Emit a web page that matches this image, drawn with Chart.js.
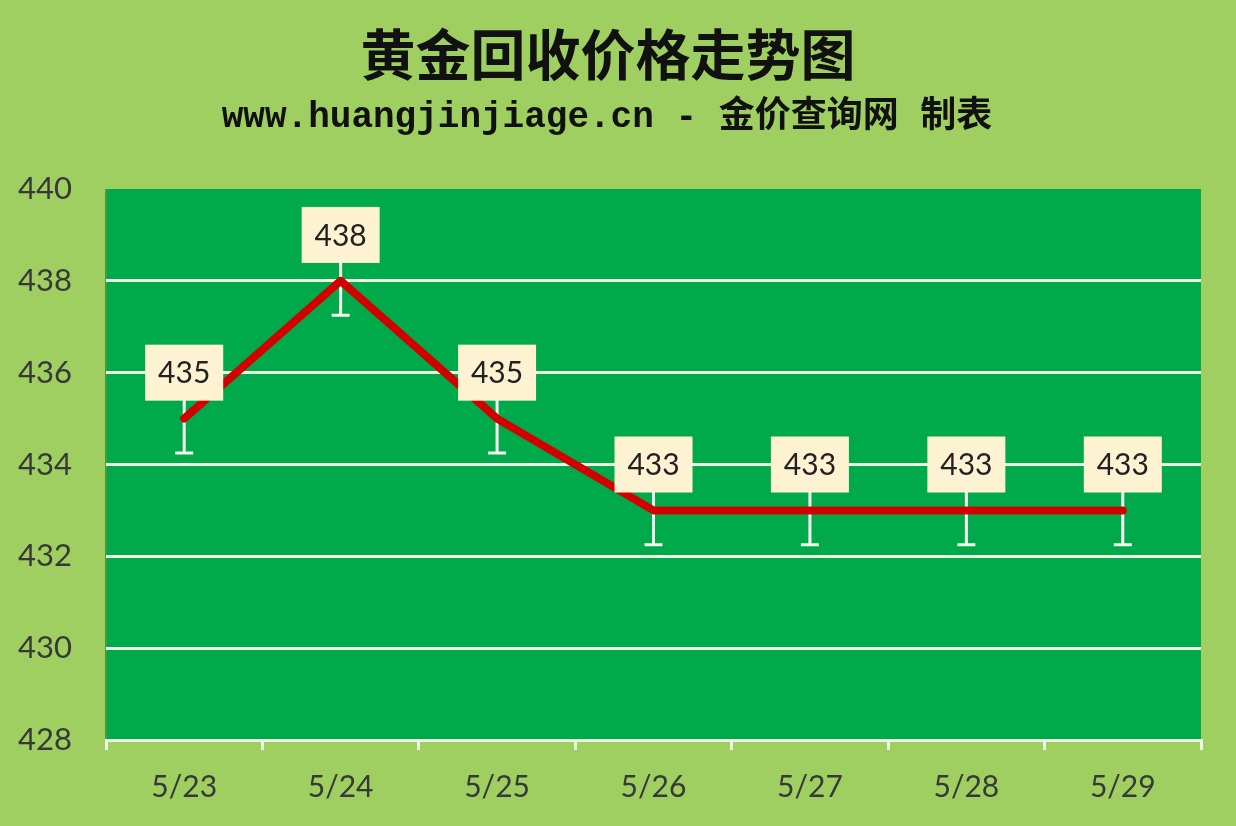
<!DOCTYPE html>
<html>
<head>
<meta charset="utf-8">
<script src="https://cdn.jsdelivr.net/npm/chart.js@4"></script>
<style>
  html, body { margin: 0; padding: 0; background: #9fcf60; }
  #wrap { width: 1236px; height: 826px; position: relative; }
</style>
</head>
<body>
<div id="wrap"><canvas id="priceChart"></canvas></div>
<script>
// data
const dates = ['5/23', '5/24', '5/25', '5/26', '5/27', '5/28', '5/29'];
const prices = [435, 438, 435, 433, 433, 433, 433];
const yTicks = [428, 430, 432, 434, 436, 438, 440];
const errorMargin = 0.75;

const titleText = '黄金回收价格走势图';
const subtitleText = 'www.huangjinjiage.cn - 金价查询网 制表';

// page background, plot area and the title lines
const backdrop = {
    id: 'backdrop',
    beforeDraw(chart) {
        const { ctx, chartArea: a } = chart;
        ctx.save();
        ctx.fillStyle = '#9fcf60';
        ctx.fillRect(0, 0, chart.width, chart.height);
        ctx.fillStyle = '#00aa4a';
        ctx.fillRect(a.left, a.top, a.right - a.left, a.bottom - a.top);
        ctx.strokeStyle = '#4c9a3a';
        ctx.lineWidth = 2;
        ctx.beginPath();
        ctx.moveTo(a.left, a.top);
        ctx.lineTo(a.left, a.bottom);
        ctx.stroke();

        ctx.fillStyle = '#111';
        ctx.textAlign = 'center';
        ctx.textBaseline = 'middle';
        ctx.font = 'bold 55px "Noto Sans CJK SC"';
        ctx.fillText(titleText, 608, 54);
        ctx.font = 'bold 36px "Liberation Mono", "Noto Sans CJK SC"';
        ctx.fillText(subtitleText, 607, 118);
        ctx.restore();
    }
};

// white error bars under the line
const errorBars = {
    id: 'errorBars',
    beforeDatasetsDraw(chart) {
        const { ctx, scales: { x, y } } = chart;
        ctx.save();
        ctx.strokeStyle = '#f4f8ee';
        ctx.lineWidth = 3;
        prices.forEach((v, i) => {
            const px = x.getPixelForValue(i);
            const top = y.getPixelForValue(v + errorMargin);
            const bot = y.getPixelForValue(v - errorMargin);
            ctx.beginPath();
            ctx.moveTo(px, top);
            ctx.lineTo(px, bot);
            ctx.moveTo(px - 9, bot);
            ctx.lineTo(px + 9, bot);
            ctx.stroke();
        });
        ctx.restore();
    }
};

// cream value boxes above each point
const valueBoxes = {
    id: 'valueBoxes',
    afterDatasetsDraw(chart) {
        const { ctx, scales: { x, y } } = chart;
        ctx.save();
        ctx.font = '30px Lato';
        ctx.textAlign = 'center';
        ctx.textBaseline = 'middle';
        prices.forEach((v, i) => {
            const px = x.getPixelForValue(i);
            const py = y.getPixelForValue(v + 1);
            ctx.fillStyle = '#fdf2d2';
            ctx.fillRect(px - 39, py - 28, 78, 56);
            ctx.fillStyle = '#222';
            ctx.fillText(String(v), px, py + 1);
        });
        ctx.restore();
    }
};

new Chart(document.getElementById('priceChart'), {
    type: 'line',
    data: {
        labels: dates,
        datasets: [{
            data: prices,
            borderColor: '#d20000',
            borderWidth: 8,
            borderCapStyle: 'round',
            borderJoinStyle: 'round',
            pointRadius: 0,
            tension: 0,
            fill: false
        }]
    },
    options: {
        responsive: true,
        maintainAspectRatio: false,
        animation: false,
        layout: { padding: { top: 189, left: 18, right: 35, bottom: 0 } },
        plugins: {
            legend: { display: false },
            tooltip: { enabled: false }
        },
        scales: {
            x: {
                offset: true,
                border: { display: true, color: '#eef6e6', width: 3 },
                grid: {
                    offset: true,
                    drawOnChartArea: false,
                    drawTicks: true,
                    tickLength: 10,
                    color: '#eef6e6',
                    lineWidth: 3
                },
                ticks: {
                    padding: 19,
                    color: '#383838',
                    font: { family: 'Lato', size: 30 }
                },
                afterFit(scale) { scale.height = 86; }
            },
            y: {
                min: yTicks[0],
                max: yTicks[yTicks.length - 1],
                afterBuildTicks(scale) {
                    scale.ticks = yTicks.map(v => ({ value: v }));
                },
                border: { display: false },
                grid: {
                    color: ctx => ctx.tick && ctx.tick.value === yTicks[yTicks.length - 1] ? 'rgba(0,0,0,0)' : '#eef6e6',
                    lineWidth: 3,
                    drawTicks: false
                },
                ticks: {
                    crossAlign: 'far',
                    color: '#383838',
                    font: { family: 'Lato', size: 31 }
                },
                afterFit(scale) { scale.width = 88; }
            }
        }
    },
    plugins: [backdrop, errorBars, valueBoxes]
});
</script>
</body>
</html>
